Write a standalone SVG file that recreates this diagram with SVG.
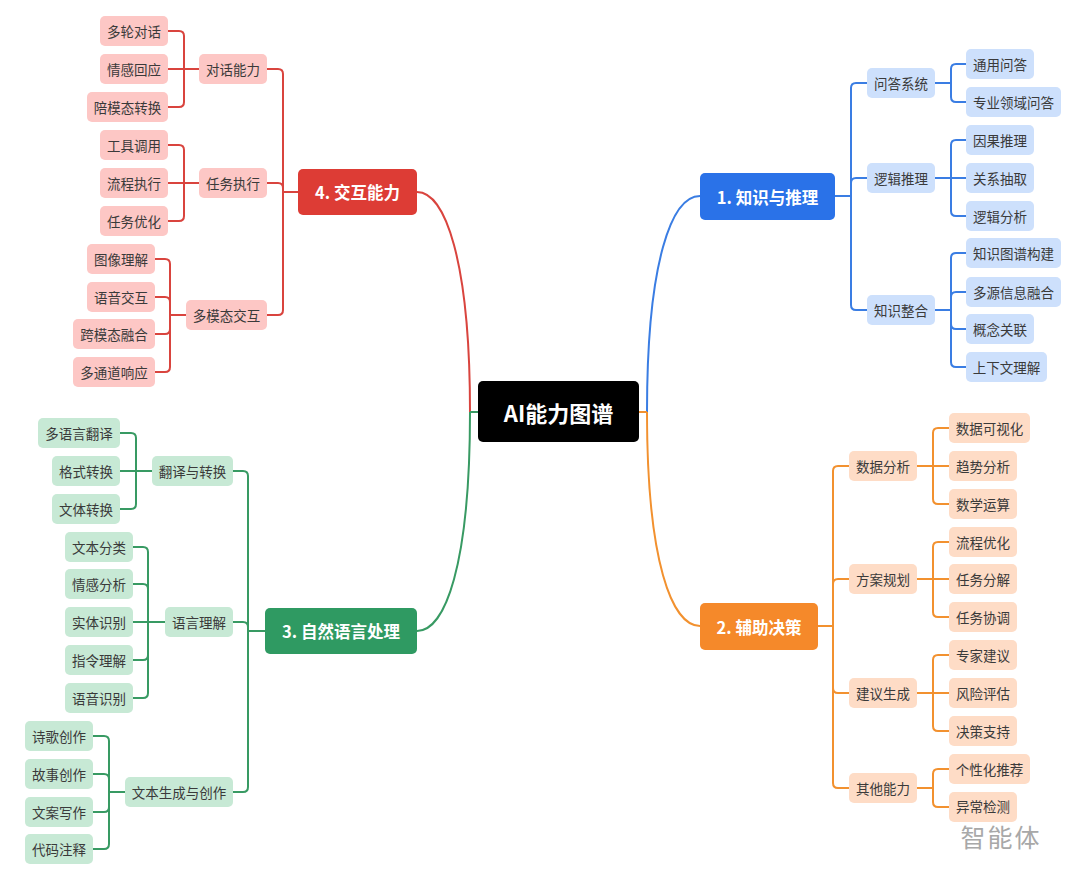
<svg xmlns="http://www.w3.org/2000/svg" width="1080" height="872" viewBox="0 0 1080 872">
<style>
text{font-family:"Noto Sans CJK SC","Noto Sans",sans-serif;text-anchor:middle;dominant-baseline:central}
.t{font-size:13.5px;fill:#3a3a3a}
.h{font-size:16.5px;font-weight:bold;fill:#fff}
.c{fill:none;stroke-width:2;stroke-linejoin:round}
.cb{stroke:#3a7de3}.co{stroke:#f2912f}.cg{stroke:#389a63}.cr{stroke:#d9443e}
.lb{fill:#cde0fc}.lo{fill:#fedcc6}.lg{fill:#c7e9d5}.lr{fill:#fdc7c5}
</style>
<rect width="1080" height="872" fill="#fff"/>
<g id="connectors">
<path class="c cr" d="M470,412 C470,260 445,192 417,192"/>
<path class="c cb" d="M647,412 C647,260 672,196 700,196"/>
<path class="c co" d="M647,412 C647,562 672,626 700,626"/>
<path class="c cg" d="M470,412 C470,566 445,631 417,631"/>
<path class="c cg" d="M470,412 H478"/>
<path class="c co" d="M639,412 H647"/>
<path class="c cb" d="M835,196 H851 V88 Q851,83 856,83 H867 M835,196 H851 V183 Q851,178 856,178 H867 M835,196 H851 V305 Q851,310 856,310 H867"/>
<path class="c cb" d="M935,83 H951 V69 Q951,64 956,64 H966 M935,83 H951 V97 Q951,102 956,102 H966"/>
<path class="c cb" d="M935,178 H951 V145 Q951,140 956,140 H966 M935,178 H966 M935,178 H951 V211 Q951,216 956,216 H966"/>
<path class="c cb" d="M935,310 H951 V258 Q951,253 956,253 H966 M935,310 H951 V297 Q951,292 956,292 H966 M935,310 H951 V324 Q951,329 956,329 H966 M935,310 H951 V362 Q951,367 956,367 H966"/>
<path class="c co" d="M818,626 H833 V471 Q833,466 838,466 H849 M818,626 H833 V584 Q833,579 838,579 H849 M818,626 H833 V688 Q833,693 838,693 H849 M818,626 H833 V783 Q833,788 838,788 H849"/>
<path class="c co" d="M917,466 H933 V433 Q933,428 938,428 H949 M917,466 H949 M917,466 H933 V499 Q933,504 938,504 H949"/>
<path class="c co" d="M917,579 H933 V547 Q933,542 938,542 H949 M917,579 H949 M917,579 H933 V612 Q933,617 938,617 H949"/>
<path class="c co" d="M917,693 H933 V660 Q933,655 938,655 H949 M917,693 H949 M917,693 H933 V726 Q933,731 938,731 H949"/>
<path class="c co" d="M917,788 H933 V774 Q933,769 938,769 H949 M917,788 H933 V802 Q933,807 938,807 H949"/>
<path class="c cg" d="M265,631 H248 V476 Q248,471 243,471 H233 M265,631 H248 V627 Q248,622 243,622 H233 M265,631 H248 V787 Q248,792 243,792 H233"/>
<path class="c cg" d="M152,471 H136 V438 Q136,433 131,433 H120 M152,471 H120 M152,471 H136 V504 Q136,509 131,509 H120"/>
<path class="c cg" d="M165,622 H148 V552 Q148,547 143,547 H133 M165,622 H148 V589 Q148,584 143,584 H133 M165,622 H133 M165,622 H148 V655 Q148,660 143,660 H133 M165,622 H148 V693 Q148,698 143,698 H133"/>
<path class="c cg" d="M125,792 H109 V741 Q109,736 104,736 H93 M125,792 H109 V779 Q109,774 104,774 H93 M125,792 H109 V807 Q109,812 104,812 H93 M125,792 H109 V844 Q109,849 104,849 H93"/>
<path class="c cr" d="M298,192 H283 V74 Q283,69 278,69 H267 M298,192 H283 V188 Q283,183 278,183 H267 M298,192 H283 V310 Q283,315 278,315 H267"/>
<path class="c cr" d="M199,69 H184 V36 Q184,31 179,31 H168 M199,69 H168 M199,69 H184 V102 Q184,107 179,107 H168"/>
<path class="c cr" d="M199,183 H184 V150 Q184,145 179,145 H168 M199,183 H168 M199,183 H184 V216 Q184,221 179,221 H168"/>
<path class="c cr" d="M186,315 H170 V264 Q170,259 165,259 H155 M186,315 H170 V302 Q170,297 165,297 H155 M186,315 H170 V329 Q170,334 165,334 H155 M186,315 H170 V367 Q170,372 165,372 H155"/>
</g>
<g id="root"><rect x="478" y="381" width="161" height="61" rx="5" fill="#000"/><text x="558.5" y="411.5" style="font-size:22px;font-weight:bold;fill:#fff">AI能力图谱</text></g>
<g id="b1"><rect x="700" y="173" width="135" height="47" rx="5" fill="#2a72e8"/><text class="h" x="767.5" y="196.5">1. 知识与推理</text></g>
<g id="b2"><rect x="700" y="603" width="118" height="47" rx="5" fill="#f5892a"/><text class="h" x="759" y="626.5">2. 辅助决策</text></g>
<g id="b3"><rect x="265" y="608" width="152" height="46" rx="5" fill="#2f9a62"/><text class="h" x="341" y="631">3. 自然语言处理</text></g>
<g id="b4"><rect x="298" y="169" width="119" height="46" rx="5" fill="#dd3c35"/><text class="h" x="357.5" y="192">4. 交互能力</text></g>
<g id="n1a"><rect class="lb" x="867" y="68" width="68" height="30" rx="5"/><text class="t" x="901" y="83">问答系统</text></g>
<g id="n1b"><rect class="lb" x="867" y="163" width="68" height="30" rx="5"/><text class="t" x="901" y="178">逻辑推理</text></g>
<g id="n1c"><rect class="lb" x="867" y="295" width="68" height="30" rx="5"/><text class="t" x="901" y="310">知识整合</text></g>
<g id="n1a1"><rect class="lb" x="966" y="49" width="68" height="30" rx="5"/><text class="t" x="1000" y="64">通用问答</text></g>
<g id="n1a2"><rect class="lb" x="966" y="87" width="95" height="30" rx="5"/><text class="t" x="1013.5" y="102">专业领域问答</text></g>
<g id="n1b1"><rect class="lb" x="966" y="125" width="68" height="30" rx="5"/><text class="t" x="1000" y="140">因果推理</text></g>
<g id="n1b2"><rect class="lb" x="966" y="163" width="68" height="30" rx="5"/><text class="t" x="1000" y="178">关系抽取</text></g>
<g id="n1b3"><rect class="lb" x="966" y="201" width="68" height="30" rx="5"/><text class="t" x="1000" y="216">逻辑分析</text></g>
<g id="n1c1"><rect class="lb" x="966" y="238" width="95" height="30" rx="5"/><text class="t" x="1013.5" y="253">知识图谱构建</text></g>
<g id="n1c2"><rect class="lb" x="966" y="277" width="95" height="30" rx="5"/><text class="t" x="1013.5" y="292">多源信息融合</text></g>
<g id="n1c3"><rect class="lb" x="966" y="314" width="68" height="30" rx="5"/><text class="t" x="1000" y="329">概念关联</text></g>
<g id="n1c4"><rect class="lb" x="966" y="352" width="81" height="30" rx="5"/><text class="t" x="1006.5" y="367">上下文理解</text></g>
<g id="n2a"><rect class="lo" x="849" y="451" width="68" height="30" rx="5"/><text class="t" x="883" y="466">数据分析</text></g>
<g id="n2b"><rect class="lo" x="849" y="564" width="68" height="30" rx="5"/><text class="t" x="883" y="579">方案规划</text></g>
<g id="n2c"><rect class="lo" x="849" y="678" width="68" height="30" rx="5"/><text class="t" x="883" y="693">建议生成</text></g>
<g id="n2d"><rect class="lo" x="849" y="773" width="68" height="30" rx="5"/><text class="t" x="883" y="788">其他能力</text></g>
<g id="n2a1"><rect class="lo" x="949" y="413" width="81" height="30" rx="5"/><text class="t" x="989.5" y="428">数据可视化</text></g>
<g id="n2a2"><rect class="lo" x="949" y="451" width="68" height="30" rx="5"/><text class="t" x="983" y="466">趋势分析</text></g>
<g id="n2a3"><rect class="lo" x="949" y="489" width="68" height="30" rx="5"/><text class="t" x="983" y="504">数学运算</text></g>
<g id="n2b1"><rect class="lo" x="949" y="527" width="68" height="30" rx="5"/><text class="t" x="983" y="542">流程优化</text></g>
<g id="n2b2"><rect class="lo" x="949" y="564" width="68" height="30" rx="5"/><text class="t" x="983" y="579">任务分解</text></g>
<g id="n2b3"><rect class="lo" x="949" y="602" width="68" height="30" rx="5"/><text class="t" x="983" y="617">任务协调</text></g>
<g id="n2c1"><rect class="lo" x="949" y="640" width="68" height="30" rx="5"/><text class="t" x="983" y="655">专家建议</text></g>
<g id="n2c2"><rect class="lo" x="949" y="678" width="68" height="30" rx="5"/><text class="t" x="983" y="693">风险评估</text></g>
<g id="n2c3"><rect class="lo" x="949" y="716" width="68" height="30" rx="5"/><text class="t" x="983" y="731">决策支持</text></g>
<g id="n2d1"><rect class="lo" x="949" y="754" width="81" height="30" rx="5"/><text class="t" x="989.5" y="769">个性化推荐</text></g>
<g id="n2d2"><rect class="lo" x="949" y="792" width="68" height="30" rx="5"/><text class="t" x="983" y="806">异常检测</text></g>
<g id="n3a"><rect class="lg" x="152" y="456" width="81" height="30" rx="5"/><text class="t" x="192.5" y="471">翻译与转换</text></g>
<g id="n3b"><rect class="lg" x="165" y="607" width="68" height="30" rx="5"/><text class="t" x="199" y="622">语言理解</text></g>
<g id="n3c"><rect class="lg" x="125" y="777" width="108" height="30" rx="5"/><text class="t" x="179" y="792">文本生成与创作</text></g>
<g id="n3a1"><rect class="lg" x="38" y="418" width="82" height="30" rx="5"/><text class="t" x="79" y="433">多语言翻译</text></g>
<g id="n3a2"><rect class="lg" x="52" y="456" width="68" height="30" rx="5"/><text class="t" x="86" y="471">格式转换</text></g>
<g id="n3a3"><rect class="lg" x="52" y="494" width="68" height="30" rx="5"/><text class="t" x="86" y="509">文体转换</text></g>
<g id="n3b1"><rect class="lg" x="65" y="532" width="68" height="30" rx="5"/><text class="t" x="99" y="547">文本分类</text></g>
<g id="n3b2"><rect class="lg" x="65" y="569" width="68" height="30" rx="5"/><text class="t" x="99" y="584">情感分析</text></g>
<g id="n3b3"><rect class="lg" x="65" y="607" width="68" height="30" rx="5"/><text class="t" x="99" y="622">实体识别</text></g>
<g id="n3b4"><rect class="lg" x="65" y="645" width="68" height="30" rx="5"/><text class="t" x="99" y="660">指令理解</text></g>
<g id="n3b5"><rect class="lg" x="65" y="683" width="68" height="30" rx="5"/><text class="t" x="99" y="698">语音识别</text></g>
<g id="n3c1"><rect class="lg" x="25" y="721" width="68" height="30" rx="5"/><text class="t" x="59" y="736">诗歌创作</text></g>
<g id="n3c2"><rect class="lg" x="25" y="759" width="68" height="30" rx="5"/><text class="t" x="59" y="774">故事创作</text></g>
<g id="n3c3"><rect class="lg" x="25" y="797" width="68" height="30" rx="5"/><text class="t" x="59" y="812">文案写作</text></g>
<g id="n3c4"><rect class="lg" x="25" y="834" width="68" height="30" rx="5"/><text class="t" x="59" y="849">代码注释</text></g>
<g id="n4a"><rect class="lr" x="199" y="54" width="68" height="30" rx="5"/><text class="t" x="233" y="69">对话能力</text></g>
<g id="n4b"><rect class="lr" x="199" y="168" width="68" height="30" rx="5"/><text class="t" x="233" y="183">任务执行</text></g>
<g id="n4c"><rect class="lr" x="186" y="300" width="81" height="30" rx="5"/><text class="t" x="226.5" y="315">多模态交互</text></g>
<g id="n4a1"><rect class="lr" x="100" y="16" width="68" height="30" rx="5"/><text class="t" x="134" y="31">多轮对话</text></g>
<g id="n4a2"><rect class="lr" x="100" y="54" width="68" height="30" rx="5"/><text class="t" x="134" y="69">情感回应</text></g>
<g id="n4a3"><rect class="lr" x="87" y="92" width="81" height="30" rx="5"/><text class="t" x="127.5" y="107">陪模态转换</text></g>
<g id="n4b1"><rect class="lr" x="100" y="130" width="68" height="30" rx="5"/><text class="t" x="134" y="145">工具调用</text></g>
<g id="n4b2"><rect class="lr" x="100" y="168" width="68" height="30" rx="5"/><text class="t" x="134" y="183">流程执行</text></g>
<g id="n4b3"><rect class="lr" x="100" y="206" width="68" height="30" rx="5"/><text class="t" x="134" y="221">任务优化</text></g>
<g id="n4c1"><rect class="lr" x="87" y="244" width="68" height="30" rx="5"/><text class="t" x="121" y="259">图像理解</text></g>
<g id="n4c2"><rect class="lr" x="87" y="282" width="68" height="30" rx="5"/><text class="t" x="121" y="297">语音交互</text></g>
<g id="n4c3"><rect class="lr" x="73" y="319" width="82" height="30" rx="5"/><text class="t" x="114" y="334">跨模态融合</text></g>
<g id="n4c4"><rect class="lr" x="73" y="357" width="82" height="30" rx="5"/><text class="t" x="114" y="372">多通道响应</text></g>
<g id="watermark"><text x="1001" y="836" style="font-size:25px;fill:#a8a8a8;letter-spacing:2px">智能体</text></g>
</svg>
